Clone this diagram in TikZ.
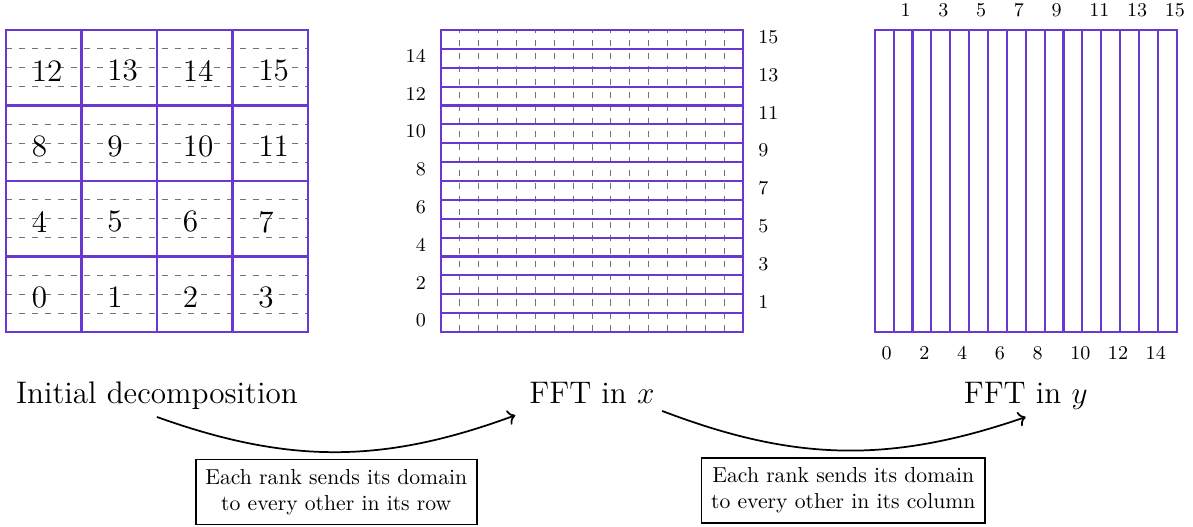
\documentclass[tikz,border=0pt]{standalone}
\usepackage{amsmath}
\usepackage{tikz}
\usetikzlibrary{arrows.meta, positioning, calc}
\definecolor{gridpurple}{RGB}{104,56,208}
\tikzset{
  gridline/.style={draw=gridpurple, line width=1pt},
  subline/.style={draw=black!55, dashed},
  rankbig/.style={anchor=west, inner sep=0pt, font=\Large},
  ranksmall/.style={inner sep=0pt, font=\small},
  heading/.style={anchor=base, font=\Large},
  commbox/.style={draw=black, thick, align=center, font=\normalsize, inner sep=4.5pt, fill=white},
  sendarrow/.style={->, thick},
}
\def\side{4.9}
\def\cell{1.225}
\def\sub{0.30625}
\def\xa{7.06}
\def\xb{14.1}

\begin{document}
\begin{tikzpicture}
\useasboundingbox (-0.097,-3.149) rectangle (19.265,5.388);
% initial decomposition
\foreach \r in {0,...,3}
  \foreach \s in {1,2,3}
    \draw[subline] (0,{(4*\r+\s)*\sub}) -- (\side,{(4*\r+\s)*\sub});
\draw[gridline] (0,0) rectangle (\side,\side);
\foreach \i in {1,2,3}{
  \draw[gridline] ({\i*\cell},0) -- ({\i*\cell},\side);
  \draw[gridline] (0,{\i*\cell}) -- (\side,{\i*\cell});
}
\foreach \r in {0,...,3}
  \foreach \c in {0,...,3}{
    \pgfmathtruncatemacro{\n}{4*\r+\c}
    \node[rankbig] (rank\n) at ({\c*\cell+0.414},{(\r+0.5)*\cell-0.05}) {\n};
  }
% FFT in x: slabs
\foreach \k in {1,...,15}
  \draw[subline] ({\xa+\k*\sub},0) -- ({\xa+\k*\sub},\side);
\draw[gridline] (\xa,0) rectangle ({\xa+\side},\side);
\foreach \k in {1,...,15}
  \draw[gridline] (\xa,{\k*\sub}) -- ({\xa+\side},{\k*\sub});
\foreach \k in {0,2,...,14}
  \node[ranksmall, anchor=east] (xrank\k) at (6.82,{(\k+0.5)*\sub+0.035}) {\k};
\foreach \k in {1,3,...,15}
  \node[ranksmall, anchor=west] (xrank\k) at (12.205,{(\k+0.5)*\sub+0.035}) {\k};
% FFT in y: pencils
\draw[gridline] (\xb,0) rectangle ({\xb+\side},\side);
\foreach \k in {1,...,15}
  \draw[gridline] ({\xb+\k*\sub},0) -- ({\xb+\k*\sub},\side);
\foreach \k in {1,3,...,15}
  \node[ranksmall, anchor=west] (yrank\k) at ({\xb+(\k+0.5)*\sub-0.045},5.218) {\k};
\foreach \k in {0,2,...,14}
  \node[ranksmall, anchor=west] (yrank\k) at ({\xb+(\k+0.5)*\sub-0.05},-0.346) {\k};

\node[heading] (init) at ({0.5*\side},-1.157) {Initial decomposition};
\node[heading] (fftx) at ({\xa+0.5*\side},-1.157) {FFT in $x$};
\node[heading] (ffty) at ({\xb+0.5*\side},-1.157) {FFT in $y$};

\draw[sendarrow] (init.south) to[bend right=20]
  node[commbox, below=3pt] (rowmsg) {Each rank sends its domain\\to every other in its row} ([xshift=-3pt,yshift=-2pt]fftx.south west);
\draw[sendarrow] (fftx.south east) to[bend right=20]
  node[commbox, below=3pt] (colmsg) {Each rank sends its domain\\to every other in its column} (ffty.south);
\end{tikzpicture}
\end{document}
